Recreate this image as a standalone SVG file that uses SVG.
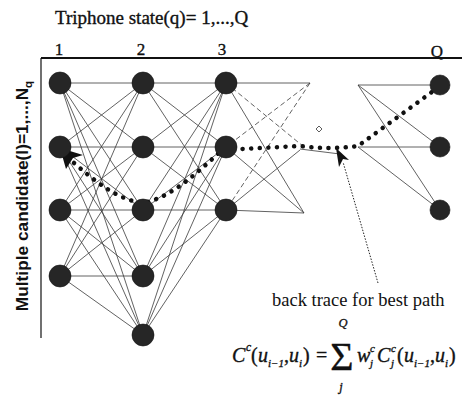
<svg xmlns="http://www.w3.org/2000/svg" width="462" height="414" viewBox="0 0 462 414">
<style>
.serif{font-family:"Liberation Serif","Times New Roman",serif;fill:#111}
.it{font-style:italic}
.thk{stroke:#111;stroke-width:0.35}
.lbl{font-family:"Liberation Sans",Arial,sans-serif;font-weight:bold;fill:#111}
.ln{stroke:#3a3a3a;stroke-width:0.8;fill:none}
.dash{stroke:#3a3a3a;stroke-width:0.8;fill:none;stroke-dasharray:5 3}
.node{fill:#262626;stroke:#111;stroke-width:0.6}
.best{stroke:#111;stroke-width:4.5;fill:none;stroke-linecap:round;stroke-dasharray:0.1 8.5}
</style>
<rect width="462" height="414" fill="#fff"/>
<text class="serif thk" x="55" y="24" font-size="19">Triphone state(q)= 1,...,Q</text>
<g class="serif thk" font-size="17">
<text x="59" y="55" text-anchor="middle">1</text>
<text x="141" y="55" text-anchor="middle">2</text>
<text x="222" y="55" text-anchor="middle">3</text>
<text x="437" y="57" text-anchor="middle">Q</text>
</g>
<text class="lbl" font-size="17.3" transform="translate(28,196) rotate(-90)" text-anchor="middle">Multiple candidate(l)=1,...,N<tspan font-size="11.5" dy="4">q</tspan></text>
<g id="frame">
<line x1="41" y1="58" x2="462" y2="58" stroke="#111" stroke-width="2"/>
<line x1="41" y1="58" x2="41" y2="338" stroke="#111" stroke-width="1.2"/>
</g>
<g id="connectors">
<g class="ln">
<line x1="60" y1="83" x2="143" y2="83"/><line x1="60" y1="83" x2="143" y2="147"/><line x1="60" y1="83" x2="143" y2="210"/><line x1="60" y1="83" x2="143" y2="276"/><line x1="60" y1="83" x2="143" y2="335"/>
<line x1="60" y1="147" x2="143" y2="83"/><line x1="60" y1="147" x2="143" y2="147"/><line x1="60" y1="147" x2="143" y2="210"/><line x1="60" y1="147" x2="143" y2="276"/><line x1="60" y1="147" x2="143" y2="335"/>
<line x1="60" y1="210" x2="143" y2="83"/><line x1="60" y1="210" x2="143" y2="147"/><line x1="60" y1="210" x2="143" y2="210"/><line x1="60" y1="210" x2="143" y2="276"/><line x1="60" y1="210" x2="143" y2="335"/>
<line x1="60" y1="276" x2="143" y2="83"/><line x1="60" y1="276" x2="143" y2="147"/><line x1="60" y1="276" x2="143" y2="210"/><line x1="60" y1="276" x2="143" y2="276"/><line x1="60" y1="276" x2="143" y2="335"/>
<line x1="143" y1="83" x2="226" y2="83"/><line x1="143" y1="83" x2="226" y2="147"/><line x1="143" y1="83" x2="226" y2="210"/>
<line x1="143" y1="147" x2="226" y2="83"/><line x1="143" y1="147" x2="226" y2="147"/><line x1="143" y1="147" x2="226" y2="210"/>
<line x1="143" y1="210" x2="226" y2="83"/><line x1="143" y1="210" x2="226" y2="147"/><line x1="143" y1="210" x2="226" y2="210"/>
<line x1="143" y1="276" x2="226" y2="83"/><line x1="143" y1="276" x2="226" y2="147"/><line x1="143" y1="276" x2="226" y2="210"/>
<line x1="143" y1="335" x2="226" y2="83"/><line x1="143" y1="335" x2="226" y2="147"/><line x1="143" y1="335" x2="226" y2="210"/>
<line x1="226" y1="83" x2="310" y2="83"/><line x1="226" y1="83" x2="304" y2="213"/>
<line x1="226" y1="147" x2="304" y2="213"/><line x1="226" y1="210" x2="304" y2="213"/>
<line x1="226" y1="210" x2="300" y2="150"/>
<line x1="300" y1="149" x2="340" y2="154"/>
<line x1="358" y1="85" x2="440" y2="85"/><line x1="358" y1="85" x2="440" y2="147"/><line x1="358" y1="85" x2="440" y2="210"/>
<line x1="358" y1="147" x2="440" y2="147"/><line x1="358" y1="147" x2="440" y2="210"/>
</g>
<g class="dash">
<line x1="310" y1="83" x2="226" y2="147"/><line x1="310" y1="83" x2="226" y2="210"/>
<line x1="226" y1="83" x2="304" y2="147"/>
</g>
<path class="best" d="M74,163 C96,182 118,200 143,203 C170,198 195,175 222,150 L300,146 Q330,150 358,146 L436,89"/>
<polygon points="60,148 83,155 73,158 66,169" fill="#111"/>
<line x1="378" y1="283" x2="343" y2="162" stroke="#222" stroke-width="1" stroke-dasharray="1.5 1.5"/>
<polygon points="336,148 349,160 343,159 339,167" fill="#111"/>
<path d="M319,126 L322,129 L319,132 L316,129 Z" fill="#fff" stroke="#333" stroke-width="0.8"/>
</g>
<g id="n1_1"><circle class="node" cx="60" cy="83" r="11"/></g>
<g id="n1_2"><circle class="node" cx="60" cy="147" r="11"/></g>
<g id="n1_3"><circle class="node" cx="60" cy="210" r="11"/></g>
<g id="n1_4"><circle class="node" cx="60" cy="276" r="11"/></g>
<g id="n2_1"><circle class="node" cx="143" cy="83" r="11"/></g>
<g id="n2_2"><circle class="node" cx="143" cy="147" r="11"/></g>
<g id="n2_3"><circle class="node" cx="143" cy="210" r="11"/></g>
<g id="n2_4"><circle class="node" cx="143" cy="276" r="11"/></g>
<g id="n2_5"><circle class="node" cx="143" cy="335" r="11"/></g>
<g id="n3_1"><circle class="node" cx="226" cy="83" r="11"/></g>
<g id="n3_2"><circle class="node" cx="226" cy="147" r="11"/></g>
<g id="n3_3"><circle class="node" cx="226" cy="210" r="11"/></g>
<g id="nQ_1"><circle class="node" cx="440" cy="85" r="10"/></g>
<g id="nQ_2"><circle class="node" cx="440" cy="147" r="10"/></g>
<g id="nQ_3"><circle class="node" cx="440" cy="210" r="10"/></g>
<text class="serif" x="272" y="306" font-size="18.5">back trace for best path</text>
<g id="formula" class="serif thk">
<text x="232" y="362" font-size="20" class="it">C</text>
<text x="246" y="351" font-size="11.5" class="it">c</text>
<text x="251" y="362" font-size="20">(</text>
<text x="258" y="362" font-size="20" class="it">u</text>
<text x="268" y="367" font-size="11" class="it">i−1</text>
<text x="284" y="362" font-size="20">,</text>
<text x="289" y="362" font-size="20" class="it">u</text>
<text x="299" y="367" font-size="11" class="it">i</text>
<text x="303" y="362" font-size="20">)</text>
<text x="316" y="362" font-size="20">=</text>
<text x="342" y="370" font-size="40" text-anchor="middle">Σ</text>
<text x="343" y="327" font-size="12.5" class="it" text-anchor="middle">Q</text>
<text x="341" y="391" font-size="12.5" class="it" text-anchor="middle">j</text>
<text x="357" y="362" font-size="20" class="it">w</text>
<text x="370" y="352" font-size="11" class="it">c</text>
<text x="370" y="367" font-size="11" class="it">j</text>
<text x="377" y="362" font-size="20" class="it">C</text>
<text x="391" y="352" font-size="11" class="it">c</text>
<text x="391" y="367" font-size="11" class="it">j</text>
<text x="397" y="362" font-size="20">(</text>
<text x="404" y="362" font-size="20" class="it">u</text>
<text x="414" y="367" font-size="11" class="it">i−1</text>
<text x="430" y="362" font-size="20">,</text>
<text x="435" y="362" font-size="20" class="it">u</text>
<text x="445" y="367" font-size="11" class="it">i</text>
<text x="449" y="362" font-size="20">)</text>
</g>
</svg>
